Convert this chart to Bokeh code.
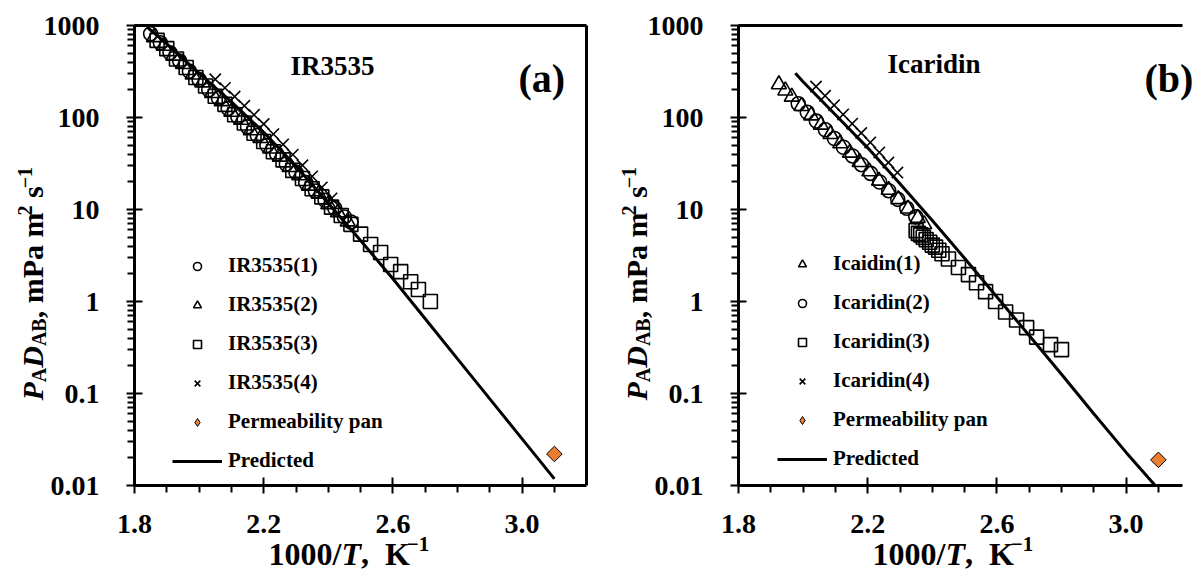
import math

from bokeh.embed import file_html
from bokeh.layouts import row
from bokeh.models import (CustomJSTickFormatter, FixedTicker, Label, Legend,
                          LegendItem, LinearAxis, Range1d)
from bokeh.plotting import figure
from bokeh.resources import INLINE

# ---------------- IR3535 (panel a) ----------------
ir1_x = [1.85, 1.88, 1.91, 1.94, 1.97, 2.00, 2.03, 2.06, 2.09, 2.12, 2.15,
         2.18, 2.21, 2.24, 2.27, 2.30, 2.33, 2.36, 2.39, 2.42, 2.45, 2.47]
ir1_y = [813, 650, 505, 410, 318, 258, 200, 162, 125, 102, 79,
         64, 49.5, 40.3, 31.2, 25.3, 19.6, 15.9, 12.6, 10.3, 8.3, 7.3]

ir2_x = [1.86, 1.89, 1.92, 1.95, 1.98, 2.01, 2.04, 2.07, 2.10, 2.13, 2.16,
         2.19, 2.22, 2.25, 2.28, 2.31, 2.34, 2.37, 2.40, 2.43, 2.46]
ir2_y = [745, 600, 468, 380, 292, 240, 184, 150, 115, 94, 72.5,
         59.5, 45.8, 37.4, 28.8, 23.5, 18.1, 14.8, 11.4, 9.3, 7.4]

ir3_x = [1.87, 1.90, 1.93, 1.96, 1.99, 2.02, 2.05, 2.08, 2.11, 2.14, 2.17,
         2.20, 2.23, 2.26, 2.29, 2.32, 2.35, 2.38, 2.41, 2.44, 2.47, 2.50,
         2.531, 2.562, 2.593, 2.624, 2.655, 2.679, 2.716]
ir3_y = [690, 560, 432, 350, 272, 220, 170, 139, 107, 87, 67.5,
         54.8, 42.5, 34.6, 26.6, 21.7, 16.8, 13.7, 10.6, 8.6, 6.9, 5.4,
         4.17, 3.41, 2.52, 2.11, 1.64, 1.35, 1.0]

ir4_x = [2.05, 2.08, 2.11, 2.14, 2.17, 2.20, 2.23, 2.26, 2.29, 2.32, 2.35,
         2.38, 2.41]
ir4_y = [260, 210, 169, 134, 107, 85, 66, 51, 39.5, 30.2, 22.9, 17.4, 13.2]

ir_pan_x = [3.1]
ir_pan_y = [0.022]

ir_pred_x = [1.84, 1.9, 2.0, 2.1, 2.2, 2.3, 2.4, 2.5, 2.6, 2.7, 2.8, 2.9,
             3.0, 3.1]
ir_pred_y = [955, 630, 302, 148, 69, 29.5, 11.7, 4.6, 1.77, 0.649, 0.238,
             0.0875, 0.0321, 0.0118]

# ---------------- Icaridin (panel b) ----------------
ic1_x = [1.925, 1.945, 1.965, 1.995, 2.025, 2.055, 2.085, 2.115, 2.145,
         2.175, 2.205, 2.235, 2.265, 2.295, 2.325, 2.355, 2.375]
ic1_y = [229, 196, 168, 133, 105, 83.3, 65.9, 52.2, 41.3,
         32.7, 25.9, 20.5, 16.3, 12.9, 10.2, 8.07, 6.91]

ic2_x = [1.985, 2.013, 2.041, 2.069, 2.097, 2.125, 2.153, 2.181, 2.209,
         2.237, 2.265, 2.293, 2.321, 2.349]
ic2_y = [141, 114, 91.4, 73.5, 59.1, 47.5, 38.2, 30.7, 24.7,
         19.9, 16.0, 12.9, 10.3, 8.32]

ic3_x = [2.350, 2.357, 2.364, 2.372, 2.381, 2.392, 2.400, 2.410, 2.420,
         2.430, 2.450, 2.481, 2.512, 2.537, 2.565, 2.596, 2.627, 2.661,
         2.692, 2.723, 2.766, 2.800]
ic3_y = [5.9, 5.5, 5.3, 5.0, 4.7, 4.4, 4.1, 3.9, 3.6,
         3.3, 2.9, 2.34, 1.96, 1.60, 1.28, 1.0, 0.77, 0.63,
         0.52, 0.41, 0.34, 0.30]

ic4_x = [2.04, 2.068, 2.096, 2.124, 2.152, 2.18, 2.208, 2.236, 2.264, 2.292]
ic4_y = [217, 172, 136, 108, 85.7, 67.9, 53.6, 41.7, 32.4, 25.2]

ic_pan_x = [3.1]
ic_pan_y = [0.019]

ic_pred_x = [1.976, 2.0, 2.1, 2.2, 2.3, 2.4, 2.5, 2.6, 2.7, 2.8, 2.9, 3.0,
             3.09]
ic_pred_y = [302, 245, 107, 46.8, 19.1, 7.59, 2.95, 1.12, 0.427, 0.162,
             0.0603, 0.0229, 0.0100]

# ---------------- axes ----------------
X_LO, X_HI = 1.8, 3.2
Y_LO, Y_HI = 0.01, 1000
x_major = [1.8, 2.2, 2.6, 3.0]
x_minor = [1.9, 2.0, 2.1, 2.3, 2.4, 2.5, 2.7, 2.8, 2.9, 3.1]
y_major = [0.01, 0.1, 1, 10, 100, 1000]
y_minor = [k * 10.0 ** e for e in range(-2, 3) for k in range(2, 10)]

FONT = "Liberation Serif"
PAN_COLOR = "#ED7D31"

# canvas geometry: each panel's frame fills its whole canvas and the axes
# are pinned inside it, so titles and labels can sit anywhere on the canvas
FIG_H = 575
PX_PER_X = 323.0        # pixels per unit of 1000/T
PX_PER_DEC = 92.0       # pixels per decade
AXIS_LEFT = 134         # pixel column of the y axis inside a panel canvas
AXIS_TOP = 25           # pixel row of the top spine
AXIS_BOTTOM = 485       # pixel row of the x axis

# advance widths (em) for the serif bold faces used in the axis titles
BOLD_W = {" ": .25, ",": .25, ".": .25, "/": .278, "0": .5, "1": .5,
          "2": .5, "3": .5, "5": .5, "A": .722, "B": .667, "D": .722,
          "K": .778, "P": .611, "T": .667, "a": .5, "m": .833, "s": .389,
          "\u2212": .570}
ITAL_W = {"P": .611, "D": .722, "T": .611}


def text_width(text, size, style):
    table = ITAL_W if "italic" in style else BOLD_W
    return sum(table.get(ch, BOLD_W.get(ch, .5)) for ch in text) * size


def add_text(p, x, y, text, size, style="bold", angle=0.0):
    """Text placed in canvas pixels (origin top-left of the panel)."""
    p.add_layout(Label(x=x, y=FIG_H - y, x_units="screen", y_units="screen",
                       text=text, angle=angle, text_font=FONT,
                       text_font_size=f"{size}px", text_font_style=style,
                       text_color="black", text_align="left",
                       text_baseline="alphabetic"))


def place_title(p, pieces, x0, y0, vertical):
    """Lay out a title made of styled pieces along one baseline.

    Each piece is (text, size, style, baseline shift, kern before it)."""
    pos = 0.0
    for text, size, style, shift, kern in pieces:
        lead = len(text) - len(text.lstrip())
        pos += lead * BOLD_W[" "] * size + kern
        body = text.lstrip()
        if vertical:
            add_text(p, x0 - shift, y0 - pos, body, size, style, math.pi / 2)
        else:
            add_text(p, x0 + pos, y0 - shift, body, size, style)
        pos += text_width(body, size, style)


Y_TITLE = [("P", 30, "bold italic", 0, 0), ("A", 20, "bold", -6, 0),
           ("D", 30, "bold italic", 0, 0), ("AB", 20, "bold", -6, 0),
           (", mPa m", 30, "bold", 0, 0), ("2", 20, "bold", 8, -3),
           (" s", 30, "bold", 0, 0), ("\u22121", 20, "bold", 8, -2)]
X_TITLE = [("1000/", 32, "bold", 0, 0), ("T", 32, "bold italic", 0, 0),
           (",", 32, "bold", 0, 0), ("  K", 32, "bold", 0, 0),
           ("\u22121", 21, "bold", 10, -3)]


def spine(p, side, location, bounds):
    ax = LinearAxis(ticker=FixedTicker(ticks=[]), fixed_location=location,
                    bounds=bounds, axis_line_width=3, axis_line_color="black",
                    major_label_text_font_size="0px",
                    major_tick_line_color=None, minor_tick_line_color=None)
    p.add_layout(ax, side)


def make_panel(width, x_right, boxed):
    x_start = X_LO - AXIS_LEFT / PX_PER_X
    x_end = X_LO + (width - AXIS_LEFT) / PX_PER_X
    y_start = Y_LO / 10 ** ((FIG_H - AXIS_BOTTOM) / PX_PER_DEC)
    y_end = Y_HI * 10 ** (AXIS_TOP / PX_PER_DEC)
    p = figure(title=None, x_range=Range1d(x_start, x_end),
               y_range=Range1d(y_start, y_end), y_axis_type="log",
               frame_width=width, frame_height=FIG_H,
               min_border=0, min_border_left=0, min_border_right=0,
               min_border_top=0, min_border_bottom=0,
               output_backend="svg", toolbar_location=None)
    p.grid.visible = False
    p.outline_line_color = None
    p.background_fill_color = "white"
    p.border_fill_color = "white"

    xa = p.xaxis[0]
    ya = p.yaxis[0]
    xa.fixed_location = Y_LO
    xa.bounds = (X_LO, x_right)
    ya.fixed_location = X_LO
    ya.bounds = (Y_LO, Y_HI)
    xa.ticker = FixedTicker(ticks=x_major, minor_ticks=x_minor)
    xa.formatter = CustomJSTickFormatter(code="return tick.toFixed(1);")
    ya.ticker = FixedTicker(ticks=y_major, minor_ticks=y_minor)
    ya.formatter = CustomJSTickFormatter(
        code="return tick >= 1 ? tick.toFixed(0) : String(+tick.toPrecision(1));")
    for ax in (xa, ya):
        ax.axis_line_width = 3
        ax.axis_line_color = "black"
        ax.major_tick_line_width = 2
        ax.minor_tick_line_width = 2
        ax.major_tick_in = 8
        ax.major_tick_out = 8
        ax.minor_tick_in = 0
        ax.minor_tick_out = 7
        ax.major_label_text_font = FONT
        ax.major_label_text_font_style = "bold"
        ax.major_label_text_font_size = "28px"
        ax.major_label_text_color = "black"
    xa.major_label_standoff = 21
    ya.major_label_standoff = 27

    spine(p, "above", Y_HI, (X_LO, x_right))
    if boxed:
        spine(p, "right", x_right, (Y_LO, Y_HI))

    place_title(p, Y_TITLE, AXIS_LEFT - 102, 400, vertical=True)
    place_title(p, X_TITLE, AXIS_LEFT + 134, 553, vertical=False)
    return p


def add_series(p, series, pred, pan, legend_xy):
    items = []
    for xs, ys, marker, size, label in series:
        r = p.scatter(xs, ys, marker=marker, size=size, fill_color=None,
                      line_color="black", line_width=1.6)
        items.append((label, r))
    px, py, plabel = pan
    p.scatter(px, py, marker="square", angle=math.pi / 4, size=11,
              fill_color=PAN_COLOR, line_color="black", line_width=1)
    # hidden twin of the pan point, used only for its legend key
    key = p.scatter(px, py, marker="diamond", size=12, fill_color=PAN_COLOR,
                    line_color="black", line_width=1, visible=False)
    items.append((plabel, key))
    lx, ly = pred
    rl = p.line(lx, ly, line_width=3, line_color="black")
    items.append(("Predicted", rl))

    legend = Legend(items=[LegendItem(label=l, renderers=[r]) for l, r in items],
                    location=legend_xy, glyph_width=50, glyph_height=20,
                    label_height=20, spacing=14, padding=0, margin=0,
                    label_standoff=6, border_line_color=None,
                    background_fill_alpha=0, inactive_fill_alpha=0,
                    label_text_font=FONT, label_text_font_style="bold",
                    label_text_font_size="21px", label_text_color="black")
    p.add_layout(legend)


# panel (a)
pa = make_panel(604, X_HI, boxed=True)
add_series(pa,
           [(ir1_x, ir1_y, "circle", 14, "IR3535(1)"),
            (ir2_x, ir2_y, "triangle", 15, "IR3535(2)"),
            (ir3_x, ir3_y, "square", 14, "IR3535(3)"),
            (ir4_x, ir4_y, "x", 16, "IR3535(4)")],
           (ir_pred_x, ir_pred_y), (ir_pan_x, ir_pan_y, "Permeability pan"),
           (172, 102))
add_text(pa, 290, 65, "IR3535", 27)
add_text(pa, 518, 78, "(a)", 40)

# panel (b)
pb_width = 600
pb = make_panel(pb_width, X_LO + (pb_width - AXIS_LEFT - 22) / PX_PER_X,
                boxed=False)
add_series(pb,
           [(ic1_x, ic1_y, "triangle", 15, "Icaidin(1)"),
            (ic2_x, ic2_y, "circle", 14, "Icaridin(2)"),
            (ic3_x, ic3_y, "square", 14, "Icaridin(3)"),
            (ic4_x, ic4_y, "x", 16, "Icaridin(4)")],
           (ic_pred_x, ic_pred_y), (ic_pan_x, ic_pan_y, "Permeability pan"),
           (173, 104))
add_text(pb, 283, 63, "Icaridin", 27)
add_text(pb, 540, 78, "(b)", 40)

layout = row(pa, pb)
open("out.html", "w").write(file_html(layout, INLINE))
